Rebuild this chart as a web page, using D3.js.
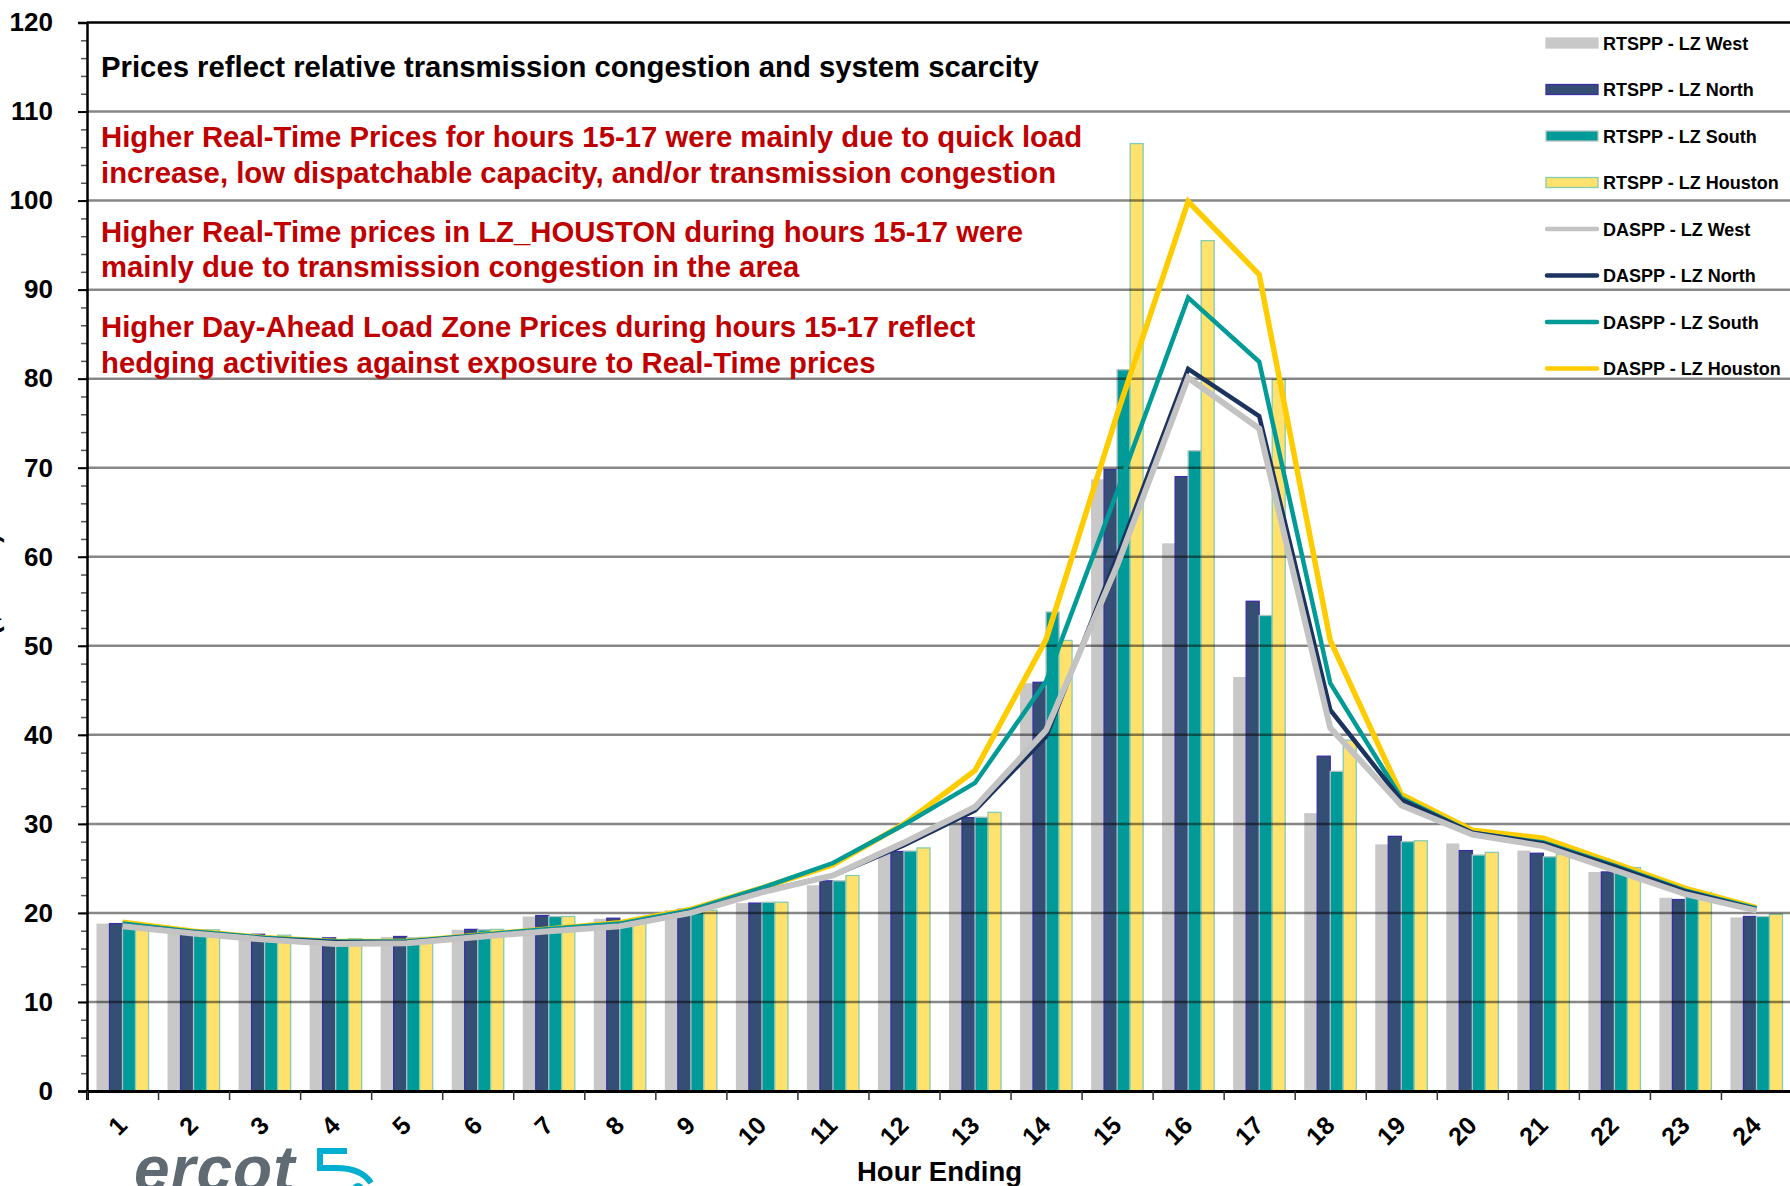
<!DOCTYPE html>
<html>
<head>
<meta charset="utf-8">
<script src="https://cdn.jsdelivr.net/npm/d3@7"></script>
<style>
body{margin:0;background:#fff;overflow:hidden;}
text{font-family:Arial,"Liberation Sans",sans-serif;}
</style>
</head>
<body>
<script>
/* datos */
let horas = ["1","2","3","4","5","6","7","8","9","10","11","12","13","14","15","16","17","18","19","20","21","22","23","24"];

let rtWest    = [18.8,18.2,17.5,17.2,17.3,18.1,19.6,19.35,20.3,21.1,23.1,26.7,30.25,45.8,68.7,61.5,46.5,31.2,27.7,27.8,27.0,24.6,21.7,19.5];
let rtNorth   = [18.8,18.1,17.6,17.2,17.35,18.15,19.7,19.4,20.4,21.1,23.6,26.9,30.7,45.9,69.8,69.0,55.0,37.6,28.6,27.0,26.7,24.6,21.5,19.6];
let rtSouth   = [18.6,18.1,17.3,17.0,17.2,18.1,19.6,19.0,20.2,21.2,23.6,26.95,30.75,53.8,81.0,71.9,53.4,35.9,28.0,26.5,26.3,24.5,22.0,19.6];
let rtHouston = [18.8,18.1,17.5,17.1,17.25,18.15,19.6,18.9,20.3,21.2,24.2,27.3,31.3,50.6,106.4,95.5,79.9,39.4,28.1,26.8,26.6,25.1,22.3,19.85];

let daWest    = [18.5,17.7,17.0,16.5,16.6,17.3,17.95,18.5,20.0,22.3,24.2,27.9,31.9,40.5,59.0,80.1,74.4,40.8,32.1,28.8,27.5,24.8,22.1,20.25];
let daNorth   = [18.6,17.8,17.1,16.7,16.7,17.4,18.0,18.6,20.1,22.4,24.2,27.6,31.5,39.8,60.0,81.1,75.8,42.8,32.7,29.0,27.8,25.2,22.4,20.4];
let daSouth   = [18.8,17.9,17.2,16.8,16.8,17.5,18.2,18.8,20.3,22.8,25.6,29.9,34.6,46.0,67.3,89.1,81.9,45.8,32.9,29.0,27.9,25.3,22.5,20.5];
let daHouston = [18.95,17.95,17.2,16.8,16.8,17.5,18.2,18.9,20.4,22.8,25.4,30.0,36.0,50.7,76.0,99.9,91.7,50.6,33.3,29.3,28.4,25.6,22.75,20.6];

let yTicks = [0,10,20,30,40,50,60,70,80,90,100,110,120];

let notas = [
    {texto:"Prices reflect relative transmission congestion and system scarcity", color:"#000", y:77},
    {texto:"Higher Real-Time Prices for hours 15-17 were mainly due to quick load", color:"#C00000", y:147},
    {texto:"increase, low dispatchable capacity, and/or transmission congestion", color:"#C00000", y:183},
    {texto:"Higher Real-Time prices in LZ_HOUSTON during hours 15-17 were", color:"#C00000", y:242},
    {texto:"mainly due to transmission congestion in the area", color:"#C00000", y:277},
    {texto:"Higher Day-Ahead Load Zone Prices during hours 15-17 reflect", color:"#C00000", y:337},
    {texto:"hedging activities against exposure to Real-Time prices", color:"#C00000", y:373}
];

let barras = [
    {nombre:"RTSPP - LZ West", valores:rtWest, relleno:"#C8C8C8", borde:"none"},
    {nombre:"RTSPP - LZ North", valores:rtNorth, relleno:"#354E73", borde:"#3A2EA6"},
    {nombre:"RTSPP - LZ South", valores:rtSouth, relleno:"#009B99", borde:"#AFC2C2"},
    {nombre:"RTSPP - LZ Houston", valores:rtHouston, relleno:"#FFE26E", borde:"#86CCB0"}
];
let lineas = [
    {nombre:"DASPP - LZ West", valores:daWest, color:"#C3C3C3", grosor:6},
    {nombre:"DASPP - LZ North", valores:daNorth, color:"#1B335E", grosor:4.5},
    {nombre:"DASPP - LZ South", valores:daSouth, color:"#009B96", grosor:4.5},
    {nombre:"DASPP - LZ Houston", valores:daHouston, color:"#FFCC00", grosor:5.5}
];

let ancho = 1790, alto = 1186;
let svg = d3.select("body").append("svg").attr("width", ancho).attr("height", alto);

let x = d3.scaleBand().domain(horas).range([87, 1792]);
let xBordes = d3.scaleLinear().domain([0, 24]).range([87, 1792]);
let xSub = d3.scaleBand().domain([0,1,2,3]).range([9.5, x.bandwidth() - 9.5]);
let y = d3.scaleLinear().domain([0, 120]).range([1091, 22.5]);

/* barras RTSPP */
barras.forEach(function(serie, i){
    svg.append("g").selectAll("rect").data(serie.valores).enter().append("rect")
        .attr("x", (d, j) => x(horas[j]) + xSub(i))
        .attr("y", d => y(d))
        .attr("width", xSub.bandwidth())
        .attr("height", d => y(0) - y(d))
        .style("fill", serie.relleno)
        .style("stroke", serie.borde)
        .style("stroke-width", 1.3);
});

/* lineas de la grilla encima de las barras */
svg.append("g").selectAll("line").data(yTicks.filter(t => t > 0 && t < 120)).enter().append("line")
    .attr("x1", 87).attr("x2", ancho)
    .attr("y1", d => y(d)).attr("y2", d => y(d))
    .style("stroke", "#000").style("stroke-opacity", 0.47).style("stroke-width", 2.5);
svg.append("line").attr("x1", 87).attr("x2", ancho).attr("y1", y(120)).attr("y2", y(120))
    .style("stroke", "#000").style("stroke-width", 2.5);

/* lineas DASPP, la ultima del legend queda debajo */
let trazo = d3.line()
    .x((d, j) => x(horas[j]) + x.bandwidth() / 2)
    .y(d => y(d));
lineas.slice().reverse().forEach(function(serie){
    svg.append("path").datum(serie.valores)
        .attr("d", trazo)
        .style("fill", "none")
        .style("stroke", serie.color)
        .style("stroke-width", serie.grosor)
        .style("stroke-linejoin", "miter");
});

/* eje Y */
let ejeMenor = svg.append("g").attr("transform", "translate(87,0)")
    .call(d3.axisLeft(y).tickValues(d3.range(0, 121, 2)).tickSize(6).tickFormat(""));
ejeMenor.select(".domain").remove();
ejeMenor.selectAll("line").style("stroke", "#555").style("stroke-width", 1.5);

let ejeY = svg.append("g").attr("transform", "translate(87,0)")
    .call(d3.axisLeft(y).tickValues(yTicks).tickSize(9).tickPadding(25));
ejeY.select(".domain").style("stroke", "#000").style("stroke-width", 2.5);
ejeY.selectAll("line").style("stroke", "#000").style("stroke-width", 2);
ejeY.selectAll("text").style("font-size", "26px").style("font-weight", "bold").style("fill", "#000");

/* eje X */
let ejeBordes = svg.append("g").attr("transform", "translate(0,1091)")
    .call(d3.axisBottom(xBordes).tickValues(d3.range(0, 25)).tickSize(9).tickFormat(""));
ejeBordes.select(".domain").style("stroke", "#000").style("stroke-width", 3);
ejeBordes.selectAll("line").style("stroke", "#333").style("stroke-width", 1.5);

let ejeX = svg.append("g").attr("transform", "translate(0,1091)")
    .call(d3.axisBottom(x).tickSize(0));
ejeX.select(".domain").remove();
ejeX.selectAll("text")
    .attr("x", 0).attr("y", 0).attr("dy", 0)
    .attr("transform", "translate(6,36) rotate(-45)")
    .attr("text-anchor", "end")
    .style("font-size", "25px").style("font-weight", "bold").style("fill", "#000");

svg.append("text").attr("x", 939.5).attr("y", 1181).attr("text-anchor", "middle")
    .style("font-size", "27.5px").style("font-weight", "bold").text("Hour Ending");

/* titulo del eje Y, casi fuera del cuadro */
svg.append("text").attr("transform", "translate(-1,534) rotate(-90)").attr("text-anchor", "end")
    .style("font-size", "26px").style("font-weight", "bold").text("Price ($/MWh)");

/* notas */
svg.append("g").selectAll("text").data(notas).enter().append("text")
    .attr("x", 101).attr("y", d => d.y)
    .style("font-size", "29.3px").style("font-weight", "bold")
    .style("fill", d => d.color)
    .text(d => d.texto);

/* leyenda */
let leyenda = svg.append("g");
let leyY = [43, 89.5, 136, 182.5, 229, 275.5, 322, 368.5];
barras.forEach(function(serie, i){
    leyenda.append("rect").attr("x", 1546).attr("y", leyY[i] - 5).attr("width", 52).attr("height", 10)
        .style("fill", serie.relleno).style("stroke", serie.borde === "none" ? serie.relleno : serie.borde).style("stroke-width", 1.3);
    leyenda.append("text").attr("x", 1603).attr("y", leyY[i] + 6.5)
        .style("font-size", "18px").style("font-weight", "bold").text(serie.nombre);
});
lineas.forEach(function(serie, i){
    let k = i + 4;
    leyenda.append("line").attr("x1", 1547).attr("x2", 1597).attr("y1", leyY[k]).attr("y2", leyY[k])
        .style("stroke", serie.color).style("stroke-width", 4.5).style("stroke-linecap", "round");
    leyenda.append("text").attr("x", 1603).attr("y", leyY[k] + 6.5)
        .style("font-size", "18px").style("font-weight", "bold").text(serie.nombre);
});

/* logo de ercot abajo a la izquierda */
svg.append("text").attr("x", 134).attr("y", 1191)
    .style("font-size", "64px").style("font-style", "italic").style("font-weight", "bold").style("letter-spacing", "1px")
    .style("fill", "#5F6A72").text("ercot");
svg.append("path")
    .attr("d", "M347,1151 L320,1151 L320,1168 L336,1168 C352,1168 364,1172 371,1183")
    .style("fill", "none").style("stroke", "#00AECF").style("stroke-width", 6);
svg.append("circle").attr("cx", 358).attr("cy", 1189).attr("r", 6).style("fill", "#00AECF");
</script>
</body>
</html>
